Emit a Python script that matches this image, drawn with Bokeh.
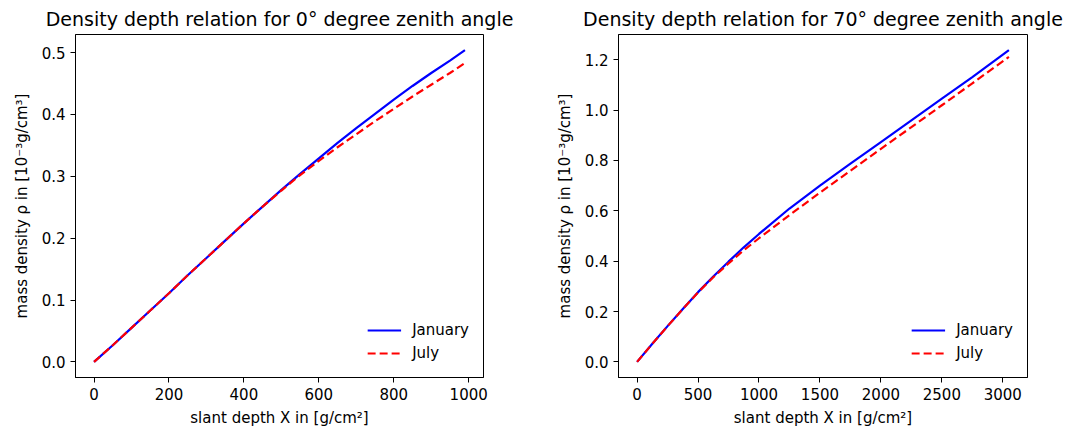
from bokeh.plotting import figure
from bokeh.layouts import row
from bokeh.models import Range1d, FixedTicker, PrintfTickFormatter, Legend, LegendItem
from bokeh.embed import file_html
from bokeh.resources import INLINE

# ---- data: zenith 0 deg ----
depth_0 = [0, 50, 100, 150, 200, 250, 300, 350, 400, 450, 500, 550, 600,
           650, 700, 750, 800, 850, 900, 950, 990]
rho_jan_0 = [0.0, 0.027, 0.055, 0.083, 0.111, 0.140, 0.168, 0.196, 0.224, 0.251,
             0.278, 0.304, 0.329, 0.354, 0.378, 0.401, 0.424, 0.446, 0.467, 0.487, 0.504]
rho_jul_0 = [0.0, 0.027, 0.055, 0.083, 0.111, 0.140, 0.168, 0.196, 0.224, 0.251,
             0.277, 0.302, 0.325, 0.347, 0.368, 0.389, 0.409, 0.429, 0.448, 0.467, 0.483]

# ---- data: zenith 70 deg ----
depth_70 = [0, 125, 250, 375, 500, 625, 750, 875, 1000, 1250, 1500, 1750, 2000,
            2250, 2500, 2750, 3050]
rho_jan_70 = [0.0, 0.072, 0.142, 0.210, 0.277, 0.339, 0.398, 0.455, 0.508, 0.609,
              0.700, 0.787, 0.873, 0.959, 1.045, 1.131, 1.238]
rho_jul_70 = [0.0, 0.072, 0.142, 0.210, 0.276, 0.336, 0.391, 0.443, 0.491, 0.583,
              0.672, 0.759, 0.846, 0.932, 1.019, 1.106, 1.211]

xticks_0 = [0, 200, 400, 600, 800, 1000]
yticks_0 = [0.0, 0.1, 0.2, 0.3, 0.4, 0.5]
xticks_70 = [0, 500, 1000, 1500, 2000, 2500, 3000]
yticks_70 = [0.0, 0.2, 0.4, 0.6, 0.8, 1.0, 1.2]

titles = ["Density depth relation for 0° degree zenith angle",
          "Density depth relation for 70° degree zenith angle"]
xlabel = "slant depth X in [g/cm²]"
ylabel = "mass density ρ in [10⁻³g/cm³]"
labels = ["January", "July"]

FONT = "DejaVu Sans"


def make(depth, jan, jul, xt, yt, title, width, bl, br, xfmt, yfmt):
    xmax = max(depth)
    ymax = max(max(jan), max(jul))
    p = figure(width=width, height=432, output_backend="svg", toolbar_location=None,
               x_range=Range1d(-0.05 * xmax, 1.05 * xmax),
               y_range=Range1d(-0.05 * ymax, 1.05 * ymax),
               min_border_left=bl, min_border_right=br, min_border_top=34,
               min_border_bottom=55)
    p.title.text = title
    p.title.align = "center"
    p.title.text_font = FONT
    p.title.text_font_size = "19px"
    p.title.text_font_style = "normal"
    p.title.text_color = "black"
    p.title.offset = 0
    p.title.standoff = 9
    p.grid.visible = False
    p.outline_line_color = "black"
    p.outline_line_width = 1
    p.outline_line_alpha = 1
    for ax in (p.xaxis[0], p.yaxis[0]):
        ax.minor_tick_line_color = None
        ax.major_tick_out = 5
        ax.major_tick_in = 0
        ax.major_tick_line_color = "black"
        ax.axis_line_color = "black"
        ax.major_label_text_font = FONT
        ax.major_label_text_font_size = "15px"
        ax.major_label_text_color = "black"
        ax.axis_label_text_font = FONT
        ax.axis_label_text_font_size = "15px"
        ax.axis_label_text_font_style = "normal"
        ax.axis_label_text_color = "black"
        ax.major_label_standoff = 5
    p.xaxis[0].ticker = FixedTicker(ticks=xt)
    p.yaxis[0].ticker = FixedTicker(ticks=yt)
    p.xaxis[0].formatter = PrintfTickFormatter(format=xfmt)
    p.yaxis[0].formatter = PrintfTickFormatter(format=yfmt)
    p.xaxis[0].axis_label = xlabel
    p.yaxis[0].axis_label = ylabel
    p.xaxis[0].axis_label_standoff = 6
    p.yaxis[0].axis_label_standoff = 8

    r1 = p.line(depth, jan, line_color="blue", line_width=2.2)
    r2 = p.line(depth, jul, line_color="red", line_width=2.2, line_dash="8 4")
    leg = Legend(items=[LegendItem(label=labels[0], renderers=[r1]),
                        LegendItem(label=labels[1], renderers=[r2])],
                 location="bottom_right")
    leg.border_line_alpha = 0
    leg.background_fill_alpha = 0
    leg.label_text_font = FONT
    leg.label_text_font_size = "15px"
    leg.label_text_color = "black"
    leg.glyph_width = 34
    leg.glyph_height = 20
    leg.label_standoff = 11
    leg.spacing = 3
    leg.margin = 8
    leg.padding = 6
    p.add_layout(leg)
    return p


p1 = make(depth_0, rho_jan_0, rho_jul_0, xticks_0, yticks_0, titles[0], 540, 75, 57, "%d", "%.1f")
p2 = make(depth_70, rho_jan_70, rho_jul_70, xticks_70, yticks_70, titles[1], 539, 78, 52, "%d", "%.1f")

layout = row(p1, p2)
open("out.html", "w").write(file_html(layout, INLINE))
